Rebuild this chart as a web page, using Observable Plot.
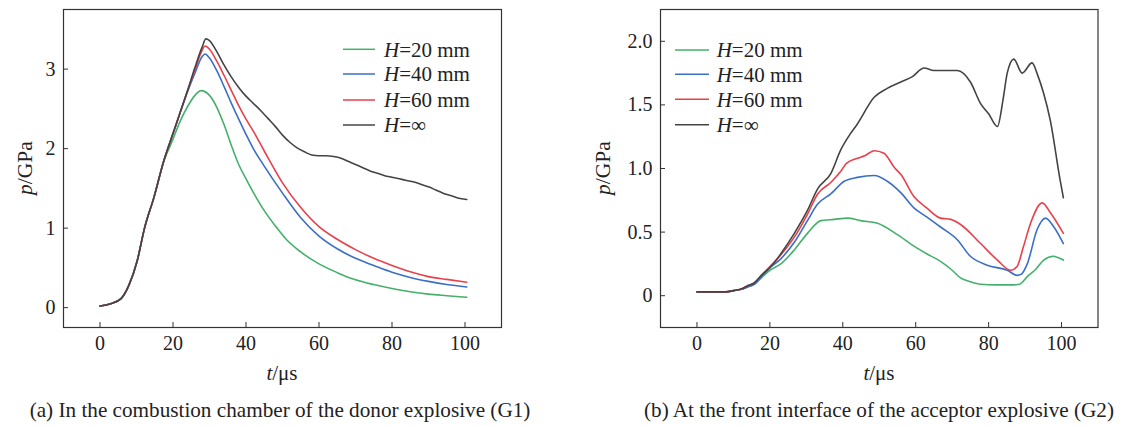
<!DOCTYPE html>
<html><head><meta charset="utf-8">
<script src="https://cdn.jsdelivr.net/npm/d3@7"></script>
<script src="https://cdn.jsdelivr.net/npm/@observablehq/plot@0.6"></script>
<style>
body{margin:0;background:#fff;font-family:"Liberation Serif","Times New Roman",serif;}
#wrap{display:flex;width:1122px;height:426px;}
.panel{width:561px;height:426px;position:relative;}
.cap{line-height:22px;white-space:nowrap;position:absolute;top:399px;transform:translateX(-50%);color:#222;}
</style></head><body>
<div id="wrap"><div class="panel" id="pa"></div><div class="panel" id="pb"></div></div>
<script>
// ---------- series ----------
const seriesNames = ["H=20 mm", "H=40 mm", "H=60 mm", "H=∞"];
const legendValues = ["20 mm", "40 mm", "60 mm", "∞"];
const seriesColors = ["#45b06c", "#3b6fc6", "#e8414b", "#444444"];

const xTicks = [0, 20, 40, 60, 80, 100];
const yTicksA = [0, 1, 2, 3];
const yTicksB = [0, 0.5, 1.0, 1.5, 2.0];
const yTickLabelsB = ["0", "0.5", "1.0", "1.5", "2.0"];

const captionA = "(a) In the combustion chamber of the donor explosive (G1)";
const captionB = "(b) At the front interface of the acceptor explosive (G2)";

// ---------- (a) G1 ----------
const g1_t_20 = [0,2.9,5.7,7.9,10.2,12.2,14.8,17.5,20,22,24,26,27.7,30,32,34,36,38,40,42,45,48,51,55,60,65,70,75,80,85,90,95,100.5];
const g1_p_20 = [0.02,0.05,0.11,0.28,0.59,1.0,1.39,1.84,2.12,2.35,2.53,2.67,2.73,2.67,2.52,2.3,2.04,1.8,1.62,1.45,1.22,1.03,0.86,0.7,0.55,0.44,0.35,0.29,0.24,0.2,0.17,0.15,0.13];

const g1_t_40 = [0,2.9,5.7,7.9,10.2,12.2,14.8,17.5,20,22,24,26,28,28.8,30,32,34,36,38,40,42,45,50,55,60,65,70,75,80,85,90,95,100.5];
const g1_p_40 = [0.02,0.05,0.11,0.28,0.59,1.0,1.39,1.85,2.19,2.46,2.72,2.95,3.16,3.19,3.14,2.98,2.78,2.57,2.37,2.18,2.0,1.78,1.44,1.13,0.9,0.74,0.62,0.53,0.445,0.38,0.33,0.29,0.26];

const g1_t_60 = [0,2.9,5.7,7.9,10.2,12.2,14.8,17.5,20,22,24,26,28,28.8,30,32,34,36,38,40,42,45,50,55,60,65,70,75,80,85,90,95,100.5];
const g1_p_60 = [0.02,0.05,0.11,0.28,0.59,1.0,1.39,1.85,2.19,2.46,2.73,2.99,3.24,3.29,3.25,3.1,2.92,2.73,2.54,2.37,2.22,1.97,1.57,1.26,1.02,0.86,0.73,0.62,0.53,0.45,0.39,0.355,0.32];

const g1_t_inf = [0,2.9,5.7,7.9,10.2,12.2,14.8,17.5,20,22,24,26,28,29,30,32,34,36,38,40,42,44,46,48,50,52,54,56,58,60,62,64,66,68,70,72,74,76,78,80,82,84,86,88,90,92,94,96,98,100.5];
const g1_p_inf = [0.02,0.05,0.11,0.28,0.59,1.0,1.39,1.85,2.19,2.46,2.73,3.02,3.28,3.38,3.36,3.22,3.05,2.9,2.77,2.66,2.57,2.48,2.38,2.28,2.17,2.08,2.01,1.96,1.92,1.91,1.91,1.9,1.88,1.84,1.8,1.76,1.72,1.69,1.66,1.64,1.62,1.6,1.58,1.55,1.52,1.48,1.44,1.41,1.38,1.36];

// ---------- (b) G2 ----------
const g2_t_20 = [0,5,8,10,12,14,15.7,18,20,23,26.7,30.3,34,37.6,41.3,44.9,49.5,55,59.5,63,66.8,70,72.3,75,77.8,82,86.9,88.5,90.6,93,95.1,97.8,99,100.5];
const g2_p_20 = [0.03,0.03,0.03,0.04,0.05,0.07,0.09,0.15,0.2,0.25,0.36,0.49,0.59,0.6,0.61,0.59,0.57,0.48,0.39,0.33,0.27,0.2,0.14,0.11,0.09,0.085,0.085,0.09,0.15,0.21,0.28,0.31,0.30,0.28];

const g2_t_40 = [0,5,8,10,12,14,15.7,18,20,23,26.7,30.3,33.1,36.7,40.4,44,48.6,52.2,55.9,59.5,63,66.8,71.4,75,79.6,85.1,87.8,89,90.6,93.3,95.6,97.9,100.5];
const g2_p_40 = [0.03,0.03,0.03,0.04,0.05,0.07,0.09,0.16,0.22,0.29,0.42,0.59,0.72,0.80,0.90,0.93,0.945,0.90,0.81,0.69,0.62,0.54,0.44,0.31,0.24,0.2,0.16,0.17,0.25,0.52,0.61,0.54,0.41];

const g2_t_60 = [0,5,8,10,12,14,15.7,18,20,23,26.7,30.3,33.1,36.7,39.5,41,44,46,48.6,51.3,54.1,56,59.5,63,66.8,69.6,72.3,77.8,82.4,86,87.8,89.5,91.5,94.7,97,100.5];
const g2_p_60 = [0.03,0.03,0.03,0.04,0.05,0.08,0.1,0.17,0.23,0.32,0.46,0.64,0.80,0.89,0.98,1.04,1.08,1.1,1.14,1.12,1.01,0.95,0.78,0.69,0.61,0.60,0.56,0.41,0.28,0.2,0.23,0.38,0.57,0.73,0.65,0.49];

const g2_t_inf = [0,5,8,10,12,14,15.7,18,20,23,26.7,30.3,33.1,36.7,39.5,42,44,48.6,52.2,55.9,59,62.3,65,71.4,75,77.8,80,82.4,84,85.1,86.9,89.2,91.9,93.5,95.1,96.9,99.6,100.5];
const g2_p_inf = [0.03,0.03,0.03,0.04,0.05,0.08,0.1,0.17,0.22,0.33,0.49,0.67,0.84,0.96,1.15,1.27,1.35,1.56,1.63,1.68,1.72,1.79,1.77,1.77,1.68,1.51,1.43,1.33,1.55,1.75,1.86,1.75,1.83,1.73,1.59,1.38,0.91,0.77];

function table(pairs) {
  const rows = [];
  pairs.forEach(([ts, ps], i) => ts.forEach((t, j) => rows.push({t, p: ps[j], s: seriesNames[i]})));
  return rows;
}
const dataA = table([[g1_t_20, g1_p_20], [g1_t_40, g1_p_40], [g1_t_60, g1_p_60], [g1_t_inf, g1_p_inf]]);
const dataB = table([[g2_t_20, g2_p_20], [g2_t_40, g2_p_40], [g2_t_60, g2_p_60], [g2_t_inf, g2_p_inf]]);

const FONT = "Liberation Serif, Times New Roman, serif";
const INK = "#222";

function makePanel(el, data, opts) {
  const {ml, mr, yDomain, yTicks, yFmt, ylabX, legX1, legX2, legTX, legY, xlabX, capX, capSize, caption} = opts;
  const W = 561, H = 385, mt = 9, mb = 58;
  const plot = Plot.plot({
    width: W, height: H,
    marginLeft: ml, marginRight: mr, marginTop: mt, marginBottom: mb,
    style: {fontFamily: FONT, fontSize: "20px", color: INK, background: "#fff"},
    x: {domain: [-10, 110]},
    y: {domain: yDomain},
    color: {domain: seriesNames, range: seriesColors},
    marks: [
      Plot.line(data, {x: "t", y: "p", stroke: "s", z: "s", curve: "monotone-x", strokeWidth: 1.6}),
      Plot.frame({stroke: "#333", strokeWidth: 1.2}),
      Plot.axisX(xTicks, {tickSize: -5, fill: "none", stroke: "#333"}),
      Plot.axisY(yTicks, {tickSize: -5, fill: "none", stroke: "#333"}),
      Plot.axisX(xTicks, {tickSize: 0, tickPadding: 8, label: null, fill: INK}),
      Plot.axisY(yTicks, {tickSize: 0, tickPadding: 8, label: null, fill: INK, tickFormat: yFmt})
    ]
  });
  const svg = d3.select(plot);
  // y label
  const yl = svg.append("text")
    .attr("transform", `translate(${ylabX},${(mt + H - mb) / 2}) rotate(-90)`)
    .attr("text-anchor", "middle").attr("dy", "0.35em")
    .attr("font-family", FONT).attr("font-size", 21.5).attr("fill", INK);
  yl.append("tspan").attr("font-style", "italic").text("p");
  yl.append("tspan").text("/GPa");
  // x label
  const xl = svg.append("text")
    .attr("x", xlabX).attr("y", 373).attr("dy", "0.35em")
    .attr("text-anchor", "middle")
    .attr("font-family", FONT).attr("font-size", 21).attr("fill", INK);
  xl.append("tspan").attr("font-style", "italic").text("t");
  xl.append("tspan").text("/μs");
  // legend
  const lg = svg.append("g");
  seriesNames.forEach((name, i) => {
    const y = legY[i];
    lg.append("line").attr("x1", legX1).attr("x2", legX2).attr("y1", y).attr("y2", y)
      .attr("stroke", seriesColors[i]).attr("stroke-width", 1.5);
    const tx = lg.append("text").attr("x", legTX).attr("y", y).attr("dy", "0.35em")
      .attr("text-anchor", "start")
      .attr("font-family", FONT).attr("font-size", 21).attr("fill", INK);
    tx.append("tspan").attr("font-style", "italic").text("H");
    tx.append("tspan").text("=" + legendValues[i]);
  });
  el.appendChild(plot);
  const cap = document.createElement("div");
  cap.className = "cap";
  cap.style.left = capX + "px";
  cap.style.fontSize = capSize + "px";
  cap.textContent = caption;
  el.appendChild(cap);
}

makePanel(document.getElementById("pa"), dataA, {
  ml: 63, mr: 60, yDomain: [-0.25, 3.75], yTicks: yTicksA, yFmt: d => String(d),
  ylabX: 24, legX1: 343, legX2: 375, legTX: 384, legY: [49.3, 74, 100, 125],
  xlabX: 282, capX: 280, capSize: 21.2, caption: captionA
});
makePanel(document.getElementById("pb"), dataB, {
  ml: 99, mr: 24.5, yDomain: [-0.25, 2.25], yTicks: yTicksB, yFmt: d => yTickLabelsB[yTicksB.indexOf(d)],
  ylabX: 41.5, legX1: 114, legX2: 148, legTX: 155.7, legY: [50, 74.3, 99.3, 124.7],
  xlabX: 318, capX: 318, capSize: 21.2, caption: captionB
});
</script>
</body></html>
